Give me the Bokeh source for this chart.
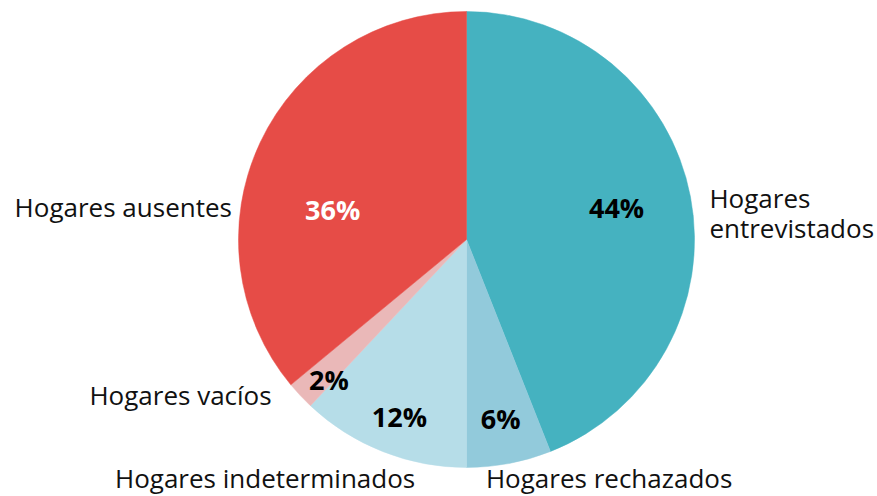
import math
from bokeh.plotting import figure
from bokeh.models import Range1d, ColumnDataSource
from bokeh.core.properties import value
from bokeh.embed import file_html
from bokeh.resources import INLINE

# ---- data ----
categories = ["Hogares\nentrevistados", "Hogares rechazados", "Hogares indeterminados",
              "Hogares vacíos", "Hogares ausentes"]
shares = [44, 6, 12, 2, 36]
pct_labels = ["44%", "6%", "12%", "2%", "36%"]

# ---- styles ----
colors = ["#45B2C0", "#92CADB", "#B6DDE8", "#EAB8B8", "#E64C47"]
pct_colors = ["#000000", "#000000", "#000000", "#000000", "#FFFFFF"]
inner_frac = [0.67, 0.80, 0.835, 0.87, 0.60]
inner_dx = [0, 0, 3, 7, -10]
inner_dy = [-3, 0, 0, 4, 28]
outer_align = ["left", "left", "right", "right", "right"]
outer_baseline = ["middle", "alphabetic", "alphabetic", "alphabetic", "alphabetic"]
outer_dx = [10, -25, 36, -22, -20]
outer_dy = [18, 6, 18, -7, 68]

W, H = 877, 496
CX, CY, R = 466, 257, 228
FONT = "Open Sans"

p = figure(width=W, height=H, output_backend="svg", toolbar_location=None,
           x_range=Range1d(0, W), y_range=Range1d(0, H),
           x_axis_type=None, y_axis_type=None, min_border=0)
p.outline_line_color = None
p.grid.visible = False
p.background_fill_color = "white"
p.border_fill_color = "white"

total = float(sum(shares))
starts, ends, mids = [], [], []
cum = 0.0
for s in shares:
    f0 = cum / total
    cum += s
    f1 = cum / total
    starts.append(math.pi / 2 - 2 * math.pi * f0)
    ends.append(math.pi / 2 - 2 * math.pi * f1)
    mids.append(math.pi / 2 - 2 * math.pi * (f0 + f1) / 2)

src = ColumnDataSource(dict(start=starts, end=ends, color=colors))
p.wedge(x=CX, y=CY, radius=R, start_angle="start", end_angle="end",
        direction="clock", fill_color="color", line_color="color",
        line_width=0.5, source=src)

# inner percentage labels
for i, lab in enumerate(pct_labels):
    r = R * inner_frac[i]
    x = CX + r * math.cos(mids[i])
    y = CY + r * math.sin(mids[i])
    p.text(x=[x], y=[y], text=[lab], text_align="center", text_baseline="middle",
           x_offset=inner_dx[i], y_offset=inner_dy[i],
           text_font=value(FONT), text_font_style="bold", text_font_size="27px",
           text_color=pct_colors[i])

# outer category labels
for i, lab in enumerate(categories):
    r = R * 1.04
    x = CX + r * math.cos(mids[i])
    y = CY + r * math.sin(mids[i])
    p.text(x=[x], y=[y], text=[lab], text_align=outer_align[i],
           text_baseline=outer_baseline[i], x_offset=outer_dx[i], y_offset=outer_dy[i],
           text_font=value(FONT), text_font_size="26px", text_color="#111111",
           text_line_height=0.85)

open("out.html", "w").write(file_html(p, INLINE))
